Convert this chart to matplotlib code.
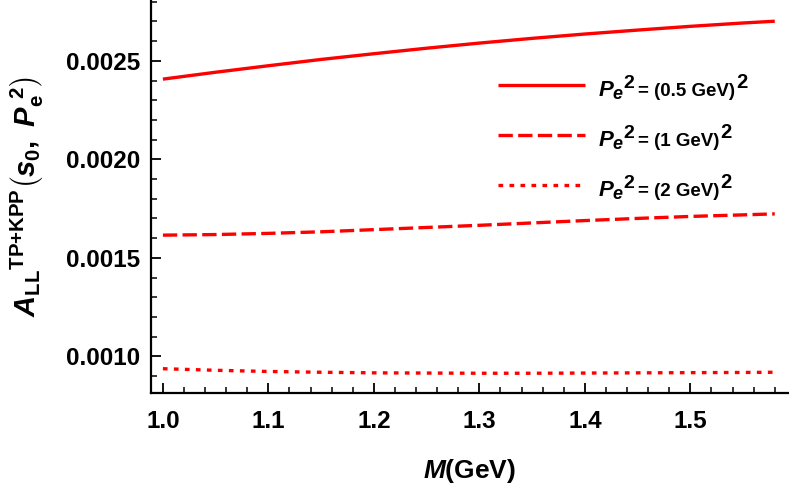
import matplotlib
matplotlib.use("Agg")
import matplotlib.pyplot as plt
from matplotlib.ticker import MultipleLocator, FormatStrFormatter

plt.rcParams['font.family'] = ['Liberation Sans', 'DejaVu Sans']
plt.rcParams['font.weight'] = 'bold'
plt.rcParams['mathtext.fontset'] = 'custom'
plt.rcParams['mathtext.rm'] = 'Liberation Sans:bold'
plt.rcParams['mathtext.bf'] = 'Liberation Sans:bold'
plt.rcParams['mathtext.it'] = 'Liberation Sans:bold:italic'
plt.rcParams['mathtext.sf'] = 'Liberation Sans:bold'

# ---- data ----
M = [1.0, 1.05, 1.1, 1.15, 1.2, 1.25, 1.3, 1.35, 1.4, 1.45, 1.5, 1.55, 1.58]
A_05 = [0.002407, 0.002442, 0.002475, 0.002507, 0.002536, 0.002564, 0.002590,
        0.002614, 0.002636, 0.002656, 0.002675, 0.002692, 0.002701]
A_1 = [0.001615, 0.001618, 0.001624, 0.001632, 0.001643, 0.001654, 0.001665,
       0.001677, 0.001689, 0.001700, 0.001710, 0.001718, 0.001723]
A_2 = [0.000937, 0.000929, 0.000923, 0.000919, 0.000916, 0.000915, 0.000914,
       0.000914, 0.000915, 0.000916, 0.000917, 0.000918, 0.000919]
legend_rest = ["= (0.5 GeV)", "= (1 GeV)", "= (2 GeV)"]
x_ticks = [1.0, 1.1, 1.2, 1.3, 1.4, 1.5]
y_ticks = [0.0010, 0.0015, 0.0020, 0.0025]

red = "#ff0000"
W, H = 789, 493

fig = plt.figure(figsize=(W / 100, H / 100), dpi=100)
ax = fig.add_axes([151 / W, 100 / H, 638 / W, 393 / H])

l1, = ax.plot(M, A_05, color=red, lw=2.4, solid_capstyle='butt')
l2, = ax.plot(M, A_1, color=red, lw=2.4, linestyle=(0, (4.3, 1.6)), dash_capstyle='butt')
l3, = ax.plot(M, A_2, color=red, lw=2.4, linestyle=(0, (1.4, 1.9)), dash_capstyle='butt')

ax.set_xlim(0.98872, 1.5935)
ax.set_ylim(0.0008137, 0.0028087)

for s in ['top', 'right']:
    ax.spines[s].set_visible(False)
for s in ['left', 'bottom']:
    ax.spines[s].set_linewidth(1.6)

ax.set_xticks(x_ticks)
ax.xaxis.set_minor_locator(MultipleLocator(0.02))
ax.set_yticks(y_ticks)
ax.yaxis.set_minor_locator(MultipleLocator(0.0001))
ax.xaxis.set_major_formatter(FormatStrFormatter('%.1f'))
ax.yaxis.set_major_formatter(FormatStrFormatter('%.4f'))
ax.tick_params(which='major', direction='in', length=7, width=1.3, labelsize=17.5)
ax.tick_params(which='minor', direction='in', length=4, width=1.1)
ax.tick_params(axis='x', which='major', pad=12)
ax.tick_params(axis='y', which='major', pad=8)
for t in ax.get_xticklabels() + ax.get_yticklabels():
    t.set_fontweight('bold')

ax.set_xlabel(r"$M$(GeV)", fontsize=19, fontweight='bold')
ax.xaxis.set_label_coords(0.5, -0.198)
ax.xaxis.label.set_va('center')
ax.set_ylabel(r"${A_{\mathrm{LL}}}^{\mathrm{TP{+}KPP}}\left(s_0,\ P_{\mathrm{e}}^{\ 2}\right)$",
              fontsize=21, fontweight='bold')
ax.yaxis.set_label_coords(-0.194, 0.5)
ax.yaxis.label.set_va('center')

# legend: handles only, labels composed as separate text pieces
leg = ax.legend([l1, l2, l3], ["", "", ""], loc='upper left',
                bbox_to_anchor=(0.5439, 0.8033), frameon=False, fontsize=14,
                handlelength=4.48, handleheight=1.0, handletextpad=0.0,
                labelspacing=1.57, borderpad=0, borderaxespad=0)

renderer = fig.canvas.get_renderer()
row_baselines = [96.0, 146.0, 196.0]   # pixels from top
x_start = 599
for yb, rest in zip(row_baselines, legend_rest):
    y = H - yb
    x = x_start
    tP = fig.text(x / W, y / H, "P", fontsize=16, style='italic',
                  fontweight='bold', va='baseline', ha='left')
    x += tP.get_window_extent(renderer).width - 1.5
    te = fig.text(x / W, (y - 3) / H, "e", fontsize=13, style='italic',
                  fontweight='bold', va='baseline', ha='left')
    x += te.get_window_extent(renderer).width + 1
    t2 = fig.text(x / W, (y + 8) / H, "2", fontsize=14,
                  fontweight='bold', va='baseline', ha='left')
    x += t2.get_window_extent(renderer).width + 4
    tr = fig.text(x / W, y / H, rest, fontsize=13.5,
                  fontweight='bold', va='baseline', ha='left')
    x += tr.get_window_extent(renderer).width + 1
    fig.text(x / W, (y + 8) / H, "2", fontsize=14.5,
             fontweight='bold', va='baseline', ha='left')

fig.savefig("out.png", dpi=100)
